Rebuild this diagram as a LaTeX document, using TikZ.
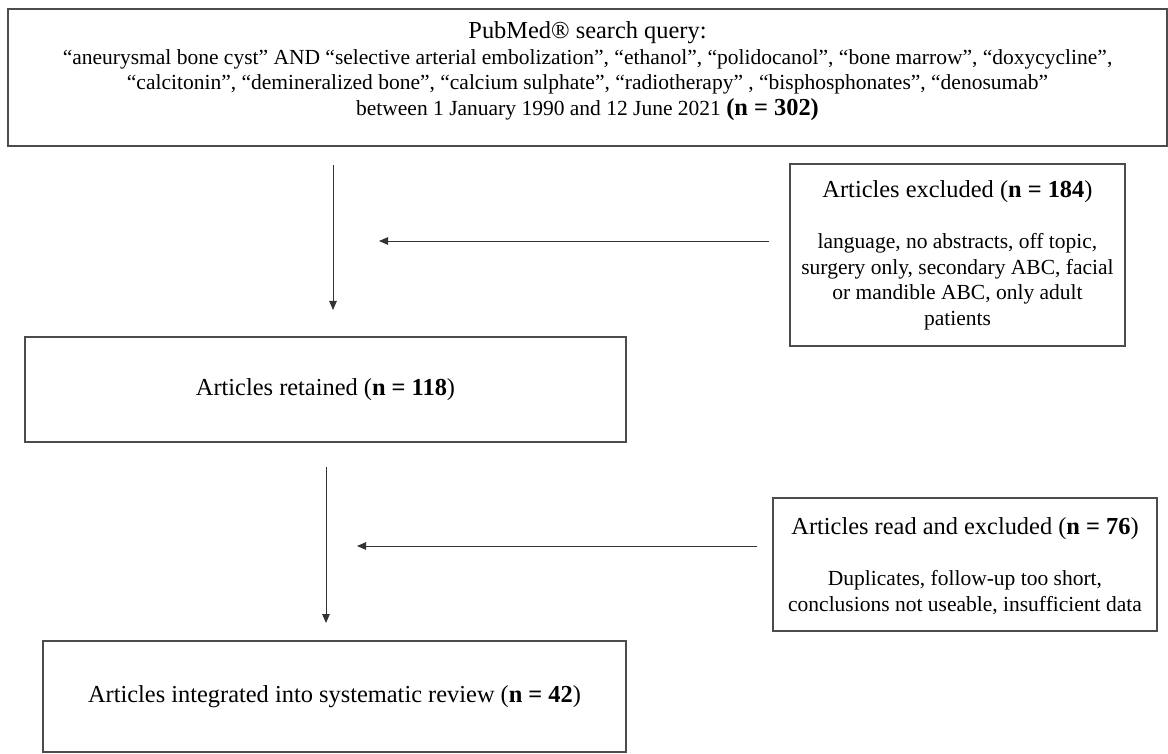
\documentclass[tikz,border=0pt]{standalone}
\usepackage{fontspec}
\setmainfont{Liberation Serif}
\usetikzlibrary{arrows.meta,positioning}

\begin{document}
\begin{tikzpicture}[x=1pt,y=-1pt,
  box/.style={draw=black!70,line width=1.1pt,inner sep=0pt,align=center},
  flow/.style={draw=black!80,line width=0.9pt,-{Triangle[length=9pt,width=7.5pt]}}]
\useasboundingbox (0,0) rectangle (1168,754);
\def\head{\fontsize{24.4}{28}\selectfont}
\def\body{\fontsize{21.5}{25.5}\selectfont}

\node[box,minimum width=1159pt,minimum height=137pt,text depth=18pt,font=\body] (query) at (587.5,77.5) {{\head PubMed® search query:}\\
“aneurysmal bone cyst” AND “selective arterial embolization”, “ethanol”, “polidocanol”, “bone marrow”, “doxycycline”,\\
“calcitonin”, “demineralized bone”, “calcium sulphate”, “radiotherapy” , “bisphosphonates”, “denosumab”\\
between 1 January 1990 and 12 June 2021 {\head\textbf{(n = 302)}}};

\node[box,minimum width=335pt,minimum height=182pt,font=\body] (excl1) at (957.5,255) {{\head Articles excluded (\textbf{n = 184})}\\[26pt]
language, no abstracts, off topic,\\ surgery only, secondary ABC, facial\\ or mandible ABC, only adult\\ patients};

\node[box,minimum width=601pt,minimum height=105pt,font=\head] (retained) at (325.5,389.5) {Articles retained (\textbf{n = 118})};

\node[box,minimum width=384pt,minimum height=133pt,text depth=0pt,font=\body] (excl2) at (965,564.5) {{\head Articles read and excluded (\textbf{n = 76})}\\[26pt]
Duplicates, follow-up too short,\\ conclusions not useable, insufficient data};

\node[box,minimum width=583pt,minimum height=111pt,font=\head] (final) at (334.5,696.5) {Articles integrated into systematic review (\textbf{n = 42})};

% arrows, not touching the boxes
\coordinate (q1) at (333,165); \coordinate (r1) at (333,310);
\coordinate (e1) at (769,241); \coordinate (m1) at (379,241);
\coordinate (q2) at (326,467); \coordinate (r2) at (326,623);
\coordinate (e2) at (757,546); \coordinate (m2) at (357,546);

\draw[flow] (q1) -- (r1);
\draw[flow] (e1) -- (m1);
\draw[flow] (q2) -- (r2);
\draw[flow] (e2) -- (m2);

\end{tikzpicture}
\end{document}
